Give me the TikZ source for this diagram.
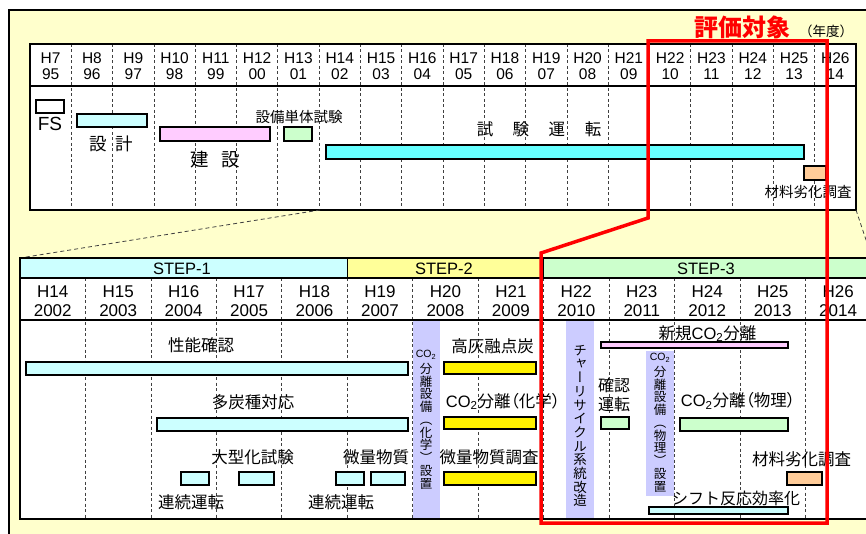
\documentclass[tikz,border=0pt]{standalone}
\usepackage{fontspec}
\setmainfont{Liberation Sans}
\newfontfamily\jp{Noto Sans CJK JP}
\newfontfamily\jpp[RawFeature=+palt]{Noto Sans CJK JP}
\newfontfamily\jpv[RawFeature=+vert]{Noto Sans CJK JP}
\usetikzlibrary{positioning}
\definecolor{bgyel}{HTML}{FFFFCC}
\definecolor{ltcyan}{HTML}{CCFFFF}
\definecolor{cyanbar}{HTML}{66FFFF}
\definecolor{ltpink}{HTML}{FFCCFF}
\definecolor{ltgreen}{HTML}{CCFFCC}
\definecolor{ltorange}{HTML}{FFCC99}
\definecolor{stepyel}{HTML}{FFFF99}
\definecolor{ltpurple}{HTML}{CCCCFF}
\tikzset{bar/.style={draw=black,line width=1.3pt},
  yeargrid/.style={black!75,line width=0.8pt,dash pattern=on 3pt off 2.5pt},
  zoomline/.style={black!75,line width=0.8pt,dash pattern=on 4pt off 3pt},
  yrtop/.style={align=center,inner sep=0pt,font=\fontsize{15.5}{16}\selectfont},
  yrbot/.style={align=center,inner sep=0pt,font=\fontsize{17}{18.5}\selectfont},
  steplbl/.style={inner sep=0pt,font=\fontsize{16.5}{18}\selectfont},
  lbl/.style={inner sep=0pt,font=\jp\fontsize{16.5}{19}\selectfont},
  parlbl/.style={inner sep=0pt,font=\jpp\fontsize{16.5}{19}\selectfont},
  smalllbl/.style={inner sep=0pt,font=\jp\fontsize{14.5}{16}\selectfont},
  vtxt/.style={align=center,inner sep=0pt,font=\jpv\fontsize{12.5}{12.75}\selectfont},
  cotxt/.style={inner sep=0pt,font=\fontsize{10.5}{11}\selectfont}}

\begin{document}
\begin{tikzpicture}[x=1pt,y=-1pt]
\useasboundingbox (0,0) rectangle (866,534);
% background panel
\fill[bgyel] (9,10) rectangle (890,545);
\draw[line width=1.5pt] (9,545) -- (9,10) -- (890,10);
\node[inner sep=0pt,text=red,font=\jp\bfseries\fontsize{24}{26}\selectfont] (target) at (742,27) {評価対象};
\node[inner sep=0pt,font=\jp\fontsize{13.5}{15}\selectfont] (unit) at (826,31) {（年度）};

% upper chart
\fill[white] (30,44) rectangle (856,210);
\foreach \i in {1,...,19}
  \draw[yeargrid] ({30+41.3*\i},44) -- ({30+41.3*\i},210);
\draw[line width=1.2pt] (30,86) -- (856,86);
\draw[line width=1.5pt] (30,44) rectangle (856,210);
\foreach \h/\yy [count=\i from 0] in {7/95,8/96,9/97,10/98,11/99,12/00,13/01,14/02,15/03,16/04,
    17/05,18/06,19/07,20/08,21/09,22/10,23/11,24/12,25/13,26/14}
  \node[yrtop] (top\i) at ({30+41.3*(\i+0.5)},66) {H\h\\\yy};

\draw[bar,fill=white] (36,100) rectangle (64,113);
\node[inner sep=0pt,font=\fontsize{19}{20}\selectfont] (fs) at (50,123.5) {FS};
\draw[bar,fill=ltcyan] (77,114) rectangle (147,127);
\node[lbl,font=\jp\fontsize{17.5}{19}\selectfont] (design) at (111,144) {設\hspace{9pt}計};
\draw[bar,fill=ltpink] (160,127) rectangle (270,141);
\node[lbl,font=\jp\fontsize{18.5}{19}\selectfont] (build) at (215,160) {建\hspace{13pt}設};
\draw[bar,fill=ltgreen] (284,127) rectangle (312,141);
\node[smalllbl] (unittest) at (299,117) {設備単体試験};
\draw[bar,fill=cyanbar] (326,145) rectangle (804,159);
\node[lbl] (oprun) at (539,129) {試\hspace{19.5pt}験\hspace{19.5pt}運\hspace{19.5pt}転};
\draw[bar,fill=ltorange] (804,166) rectangle (826,180);
\node[smalllbl] (agingtop) at (808,192.5) {材料劣化調査};

% zoom lines
\coordinate (zoomA) at (320,210);
\coordinate (zoomB) at (20,258);
\coordinate (zoomC) at (856,210);
\coordinate (zoomD) at (872,258);
\draw[zoomline] (zoomA) -- (zoomB);
\draw[zoomline] (zoomC) -- (zoomD);

% lower chart
\fill[ltcyan] (20,258) rectangle (347.3,278);
\fill[stepyel] (347.3,258) rectangle (543.6,278);
\fill[ltgreen] (543.6,258) rectangle (872,278);
\fill[white] (20,278) rectangle (872,519);
\fill[ltpurple] (412.7,320) rectangle (440,519);
\fill[ltpurple] (566,321) rectangle (594,519);
\fill[ltpurple] (646,351) rectangle (674,496);
\foreach \i in {1,...,12}
  \draw[yeargrid] ({20+65.45*\i},278) -- ({20+65.45*\i},519);
\draw[line width=1.2pt] (20,278) -- (872,278) (20,320) -- (872,320)
  (347.3,258) -- (347.3,278) (543.6,258) -- (543.6,278);
\draw[line width=1.6pt] (20,258) rectangle (872,519);
\node[steplbl] (step1) at (182,268.5) {STEP-1};
\node[steplbl] (step2) at (444,268.5) {STEP-2};
\node[steplbl] (step3) at (706,268.5) {STEP-3};
\foreach \h/\yy [count=\i from 0] in {14/2002,15/2003,16/2004,17/2005,18/2006,19/2007,20/2008,
    21/2009,22/2010,23/2011,24/2012,25/2013,26/2014}
  \node[yrbot] (bot\i) at ({20+65.45*(\i+0.5)},301) {H\h\\\yy};

% STEP-1 / STEP-2 bars
\draw[bar,fill=ltcyan] (26,362) rectangle (408,375);
\node[lbl] (perf) at (201,345) {性能確認};
\draw[bar,fill=ltcyan] (157,418) rectangle (408,431);
\node[lbl] (coals) at (253,402.5) {多炭種対応};
\draw[bar,fill=ltcyan] (181,472) rectangle (209,485);
\draw[bar,fill=ltcyan] (239,472) rectangle (274,485);
\node[lbl] (scaleup) at (252.5,457) {大型化試験};
\draw[bar,fill=ltcyan] (336,472) rectangle (364,485);
\draw[bar,fill=ltcyan] (371,472) rectangle (405,485);
\node[lbl] (trace) at (376,457) {微量物質};
\node[lbl] (contA) at (191,502) {連続運転};
\node[lbl] (contB) at (341,502) {連続運転};
\node[cotxt] (coA) at (426,355) {CO\textsubscript{2}};
\node[vtxt] (chemset) at (426,426) {分\\離\\設\\備\\（\\化\\学\\）\\設\\置};
\draw[bar,fill=yellow] (444,362) rectangle (536,374);
\node[lbl] (highash) at (492.5,346) {高灰融点炭};
\draw[bar,fill=yellow] (444,417) rectangle (536,429);
\node[parlbl] (chemsep) at (503,401.5) {{\rmfamily CO\textsubscript{2}}分離（化学）};
\draw[bar,fill=yellow] (444,472) rectangle (536,485);
\node[lbl] (tracesurvey) at (489,457) {微量物質調査};

% STEP-3 bars
\node[vtxt,font=\jpv\fontsize{13.5}{13.7}\selectfont] (charmod) at (580,426) {チ\\ャ\\ー\\リ\\サ\\イ\\ク\\ル\\系\\統\\改\\造};
\draw[bar,fill=ltgreen] (601,417) rectangle (629,429);
\node[lbl,align=center,font=\jp\fontsize{16}{19}\selectfont] (confirm) at (614,394.5) {確認\\運転};
\draw[bar,fill=ltpink] (601,342) rectangle (788,348);
\node[lbl] (newsep) at (707.5,333.5) {新規{\rmfamily CO\textsubscript{2}}分離};
\node[cotxt] (coB) at (660,358) {CO\textsubscript{2}};
\node[vtxt] (physset) at (660,429) {分\\離\\設\\備\\（\\物\\理\\）\\設\\置};
\draw[bar,fill=ltgreen] (680,418) rectangle (788,431);
\node[parlbl] (physsep) at (738,401) {{\rmfamily CO\textsubscript{2}}分離（物理）};
\draw[bar,fill=ltorange] (787,472) rectangle (822,485);
\node[lbl] (agingbot) at (801.5,459) {材料劣化調査};
\draw[bar,fill=ltcyan] (649,507) rectangle (788,514);
\node[lbl,font=\jp\fontsize{16}{19}\selectfont] (shift) at (736,498) {シフト反応効率化};

% evaluated range
\draw[red,line width=3.5pt,line join=miter] (648,41) -- (827,41) -- (827,523) -- (541,523)
  -- (541,253) -- (648,218) -- cycle;
\end{tikzpicture}
\end{document}
